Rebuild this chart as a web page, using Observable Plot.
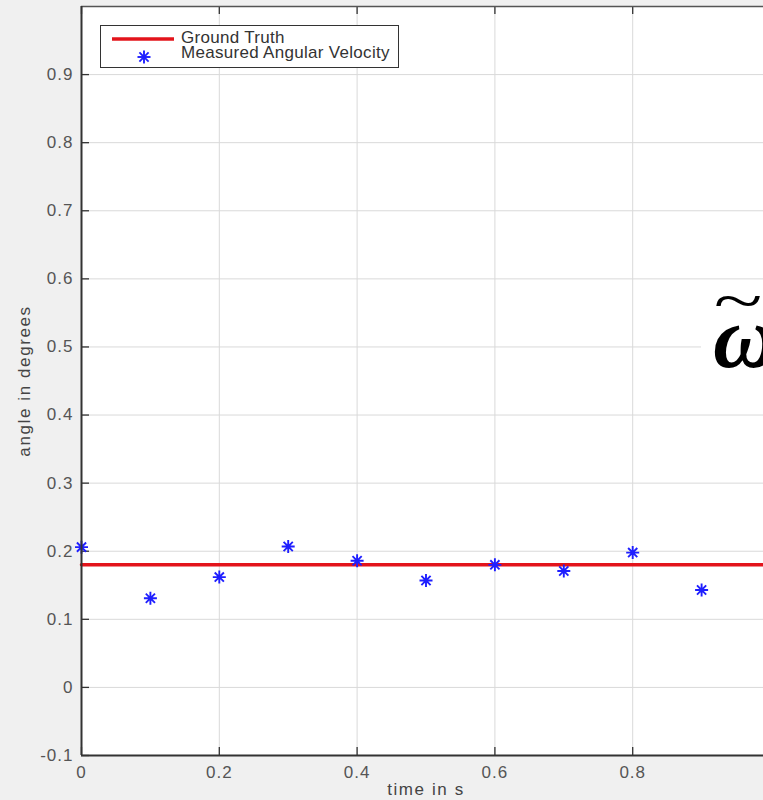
<!DOCTYPE html>
<html><head><meta charset="utf-8">
<script src="https://cdn.jsdelivr.net/npm/d3@7"></script>
<script src="https://cdn.jsdelivr.net/npm/@observablehq/plot@0.6"></script>
<style>
html,body{margin:0;padding:0;background:#f0f0f0;overflow:hidden;width:763px;height:800px}
#wrap{position:relative;width:763px;height:800px;overflow:hidden}
#wrap > svg{display:block}
#legend{position:absolute;left:100px;top:25px;width:297px;height:41px;background:#fff;border:1.5px solid #333;font-family:"Liberation Sans",Arial,sans-serif;font-size:17px;letter-spacing:0.3px;color:#333;line-height:15px}
#legend .row{position:absolute;left:0;width:100%;height:16px}
#legend svg{position:absolute;left:0;top:0}
#legend .lab{position:absolute;left:80px;white-space:nowrap}
#omega{position:absolute;left:701px;top:284px;width:80px;height:100px;background:#fff}
#omega svg{position:absolute;left:0;top:0}
</style></head><body><div id="wrap"></div>
<script>
const times = [0, 0.1, 0.2, 0.3, 0.4, 0.5, 0.6, 0.7, 0.8, 0.9, 1.0];
const measured = [0.206, 0.131, 0.162, 0.207, 0.186, 0.157, 0.180, 0.171, 0.198, 0.143, 0.206];
const groundTimes = [0, 1.0];
const groundTruth = [0.18, 0.18];
const xTicks = [0, 0.2, 0.4, 0.6, 0.8, 1.0];
const xTickLabels = [0, 0.2, 0.4, 0.6, 0.8];
const yTicks = [-0.1, 0, 0.1, 0.2, 0.3, 0.4, 0.5, 0.6, 0.7, 0.8, 0.9];
const seriesNames = ["Ground Truth", "Measured Angular Velocity"];
const xLabel = "time in s";
const yLabel = "angle in degrees";
const annotation = "ω";
const annotationAccent = "~";

const RED = "#e3141b", BLUE = "#1f1fff", GRID = "#d9d9d9", AX = "#333";
const fmt = d => { const v = Math.round(d * 10) / 10; return v === 0 ? "0" : String(v); };

const asterisk = {
  draw(ctx, size) {
    const r = Math.sqrt(size / Math.PI);
    for (let k = 0; k < 4; k++) {
      const a = k * Math.PI / 4, c = r * Math.cos(a), s = r * Math.sin(a);
      ctx.moveTo(c, s); ctx.lineTo(-c, -s);
    }
  }
};

const points = times.map((t, i) => ({t, v: measured[i]}));
const gt = groundTimes.map((t, i) => ({t, v: groundTruth[i]}));

const chart = Plot.plot({
  width: 775, height: 800,
  marginLeft: 81, marginRight: 5, marginTop: 6, marginBottom: 45,
  x: {domain: [0, 1.0]},
  y: {domain: [-0.1, 1.0]},
  style: {background: "transparent", maxWidth: "none", overflow: "visible", fontFamily: "'Liberation Sans', Arial, sans-serif"},
  marks: [
    Plot.frame({fill: "#fff", stroke: null}),
    Plot.gridX(xTicks.filter(d => d > 0), {stroke: GRID, strokeOpacity: 1}),
    Plot.gridY(yTicks.filter(d => d > -0.1), {stroke: GRID, strokeOpacity: 1}),
    Plot.tickX(xTicks, {x: d => d, insetTop: 741, stroke: AX, strokeWidth: 1.3}),
    Plot.tickX(xTicks, {x: d => d, insetBottom: 741, stroke: AX, strokeWidth: 1.3}),
    Plot.tickY(yTicks, {y: d => d, insetRight: 681, stroke: AX, strokeWidth: 1.3}),
    Plot.line(gt, {x: "t", y: "v", stroke: RED, strokeWidth: 3.5}),
    Plot.dot(points, {x: "t", y: "v", symbol: asterisk, r: 6.5, stroke: BLUE, strokeWidth: 1.9, fill: "none"}),
    Plot.ruleY([1.0], {stroke: "#555", strokeWidth: 1.5}),
    Plot.ruleX([0], {stroke: AX, strokeWidth: 2}),
    Plot.ruleY([-0.1], {stroke: AX, strokeWidth: 2}),
    Plot.axisX(xTickLabels, {tickSize: 0, tickPadding: 10, tickFormat: fmt, fontSize: 17, fill: "#555", label: null}),
    Plot.axisY(yTicks, {tickSize: 0, tickPadding: 8, tickFormat: fmt, fontSize: 17, fill: "#555", label: null}),
    Plot.text([xLabel], {text: d => d, frameAnchor: "bottom", dy: 39, fontSize: 17, fill: "#444"}),
    Plot.text([yLabel], {text: d => d, frameAnchor: "left", textAnchor: "middle", dx: -57, rotate: -90, fontSize: 17, fill: "#444"})
  ]
});
const wrap = document.getElementById("wrap");
wrap.appendChild(chart);
chart.querySelectorAll("text").forEach(t => { if (t.textContent === xLabel || t.textContent === yLabel) t.style.letterSpacing = "1.6px"; else t.style.letterSpacing = "1px"; });

// legend
const legend = document.createElement("div");
legend.id = "legend";
legend.innerHTML = `
  <div class="row" style="top:4px"><svg width="80" height="16"><line x1="11" x2="73" y1="9" y2="9" stroke="${RED}" stroke-width="3.5"/></svg><span class="lab">${seriesNames[0]}</span></div>
  <div class="row" style="top:19px"><svg width="80" height="20"><g transform="translate(43,12)" stroke="${BLUE}" stroke-width="1.9">${[0,1,2,3].map(k=>{const a=k*Math.PI/4,c=6.5*Math.cos(a),s=6.5*Math.sin(a);return `<line x1="${c}" y1="${s}" x2="${-c}" y2="${-s}"/>`;}).join("")}</g></svg><span class="lab">${seriesNames[1]}</span></div>`;
wrap.appendChild(legend);

const om = document.createElement("div");
om.id = "omega";
om.innerHTML = `<svg width="80" height="100">
  <text x="12" y="83" font-family="'Liberation Serif','DejaVu Serif',serif" font-weight="bold" font-style="italic" font-size="88" fill="#000">${annotation}</text>
  <text transform="translate(37,37) scale(1.5,1)" text-anchor="middle" font-family="'Liberation Serif','DejaVu Serif',serif" font-size="60" fill="#000">${annotationAccent}</text>
</svg>`;
wrap.appendChild(om);
</script></body></html>
